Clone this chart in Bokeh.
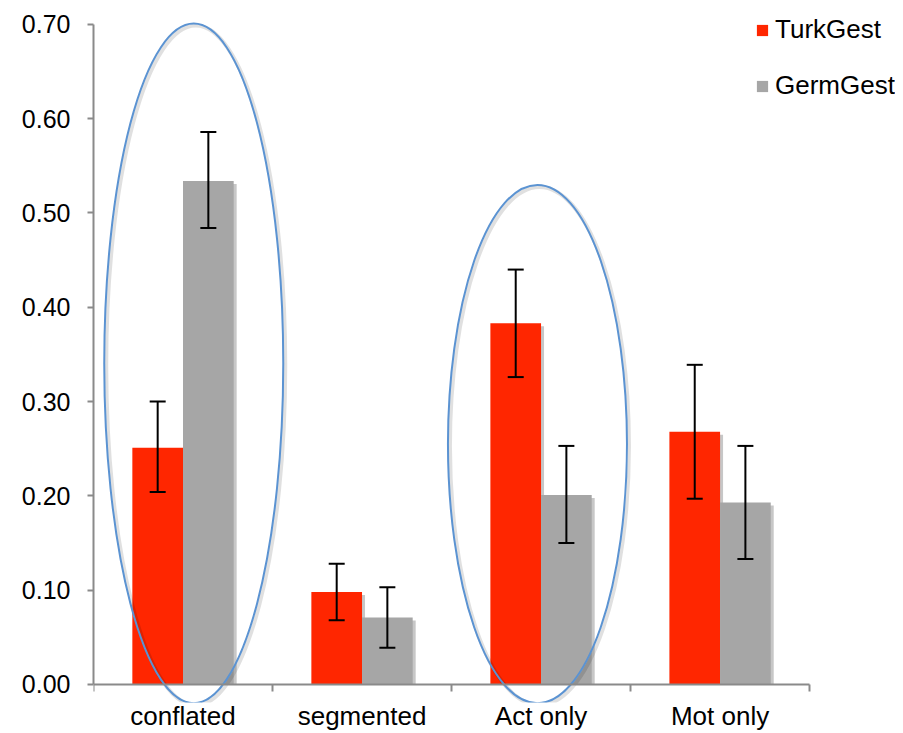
from bokeh.plotting import figure
from bokeh.models import (ColumnDataSource, FixedTicker, LinearAxis, Range1d, Whisker,
                          TeeHead, Legend, LegendItem, NumeralTickFormatter)
from bokeh.embed import file_html
from bokeh.resources import INLINE

# ---- data ----
categories = ["conflated", "segmented", "Act only", "Mot only"]
turk = [0.251, 0.098, 0.383, 0.268]
turk_upper = [0.300, 0.128, 0.440, 0.339]
turk_lower = [0.204, 0.068, 0.326, 0.197]
germ = [0.534, 0.071, 0.201, 0.193]
germ_upper = [0.586, 0.103, 0.253, 0.253]
germ_lower = [0.484, 0.039, 0.150, 0.133]
y_ticks = [0.0, 0.1, 0.2, 0.3, 0.4, 0.5, 0.6, 0.7]
series_names = ["TurkGest", "GermGest"]

# highlighted groups (annotation ellipses): category, x-shift, bottom, top
highlights = [("conflated", 0.06, -0.020, 0.701), ("Act only", -0.02, -0.020, 0.530)]

# ---- styles ----
RED = "#FF2600"
GRAY = "#A6A6A6"
AXIS = "#8A8A8A"
BLUE = "#5B93D2"
FONT = "Liberation Sans"
FS_TICK = "25px"
FS_TEXT = "26px"

BW = 0.283           # bar width (category units)
PX = 1.0 / 179.0     # one pixel in x data units
PY = 1.0 / 943.0     # one pixel in y data units

idx = list(range(len(categories)))
x_turk = [i + 0.5 - BW / 2 for i in idx]
x_germ = [i + 0.5 + BW / 2 for i in idx]

src_t = ColumnDataSource(dict(x=x_turk, top=turk, upper=turk_upper, lower=turk_lower,
                              xs=[v + 3 * PX for v in x_turk], ts=[v - 3 * PY for v in turk]))
src_g = ColumnDataSource(dict(x=x_germ, top=germ, upper=germ_upper, lower=germ_lower,
                              xs=[v + 3 * PX for v in x_germ], ts=[v - 3 * PY for v in germ]))

p = figure(x_range=Range1d(0, 4.48), y_range=Range1d(-0.0191, 0.7211),
           width=895, height=733,
           min_border_left=93, min_border_right=0, min_border_top=4, min_border_bottom=31,
           output_backend="svg", toolbar_location=None,
           x_axis_location=None, y_axis_location=None)
p.outline_line_color = None
p.grid.visible = False
p.background_fill_color = "white"
p.border_fill_color = "white"

# shadows
p.vbar(x="xs", top="ts", bottom=0, width=BW, source=src_t, fill_color="black",
       fill_alpha=0.22, line_color=None)
p.vbar(x="xs", top="ts", bottom=0, width=BW, source=src_g, fill_color="black",
       fill_alpha=0.22, line_color=None)

r_t = p.vbar(x="x", top="top", bottom=0, width=BW, source=src_t, fill_color=RED, line_color=None)
r_g = p.vbar(x="x", top="top", bottom=0, width=BW, source=src_g, fill_color=GRAY, line_color=None)

for src in (src_t, src_g):
    w = Whisker(base="x", upper="upper", lower="lower", source=src, level="overlay",
                line_color="black", line_width=2,
                upper_head=TeeHead(size=16, line_color="black", line_width=2),
                lower_head=TeeHead(size=16, line_color="black", line_width=2))
    p.add_layout(w)

# highlight ellipses
ex, ey, ew, eh = [], [], [], []
for cat, shift, bot, top in highlights:
    ex.append(categories.index(cat) + 0.5 + shift)
    ey.append((bot + top) / 2)
    ew.append(1.0)
    eh.append(top - bot)
p.ellipse(x=[v + 2 * PX for v in ex], y=[v - 2 * PY for v in ey], width=ew, height=eh,
          fill_alpha=0, line_color="black", line_alpha=0.12, line_width=4)
p.ellipse(x=ex, y=ey, width=ew, height=eh, fill_alpha=0, line_color=BLUE, line_width=2)

# y axis
yax = LinearAxis(bounds=(0, 0.7), ticker=FixedTicker(ticks=y_ticks),
                 formatter=NumeralTickFormatter(format="0.00"))
yax.axis_line_color = AXIS
yax.axis_line_width = 2
yax.major_tick_line_color = AXIS
yax.major_tick_line_width = 2
yax.major_tick_out = 6
yax.major_tick_in = 0
yax.minor_tick_line_color = None
yax.major_label_standoff = 17
yax.major_label_text_font = FONT
yax.major_label_text_font_size = FS_TICK
yax.major_label_text_color = "black"
p.add_layout(yax, "left")

# x axis line with boundary ticks (fixed at y = 0)
xline = LinearAxis(fixed_location=0, bounds=(0, len(categories)),
                   ticker=FixedTicker(ticks=[float(i) for i in range(len(categories) + 1)]),
                   major_label_overrides={i: "" for i in range(len(categories) + 1)})
xline.axis_line_color = AXIS
xline.axis_line_width = 2
xline.major_tick_line_color = AXIS
xline.major_tick_line_width = 2
xline.major_tick_out = 7
xline.major_tick_in = 0
xline.minor_tick_line_color = None
xline.major_label_text_font_size = "1px"
p.add_layout(xline, "below")

# category labels (normal axis below the frame)
xlab = LinearAxis(ticker=FixedTicker(ticks=[i + 0.5 for i in idx]),
                  major_label_overrides={i + 0.5: c for i, c in zip(idx, categories)})
xlab.axis_line_color = None
xlab.major_tick_line_color = None
xlab.minor_tick_line_color = None
xlab.major_tick_out = 0
xlab.major_tick_in = 0
xlab.major_label_standoff = -2
xlab.major_label_text_font = FONT
xlab.major_label_text_font_size = FS_TEXT
xlab.major_label_text_color = "black"
p.add_layout(xlab, "below")

legend = Legend(items=[LegendItem(label=series_names[0], renderers=[r_t]),
                       LegendItem(label=series_names[1], renderers=[r_g])],
                location=(662, 601))
legend.glyph_width = 14
legend.glyph_height = 14
legend.label_standoff = 6
legend.label_height = 29
legend.spacing = 25
legend.padding = 0
legend.margin = 0
legend.border_line_color = None
legend.background_fill_alpha = 0
legend.label_text_font = FONT
legend.label_text_font_size = FS_TEXT
legend.label_text_color = "black"
p.add_layout(legend)

open("out.html", "w").write(file_html(p, INLINE))
